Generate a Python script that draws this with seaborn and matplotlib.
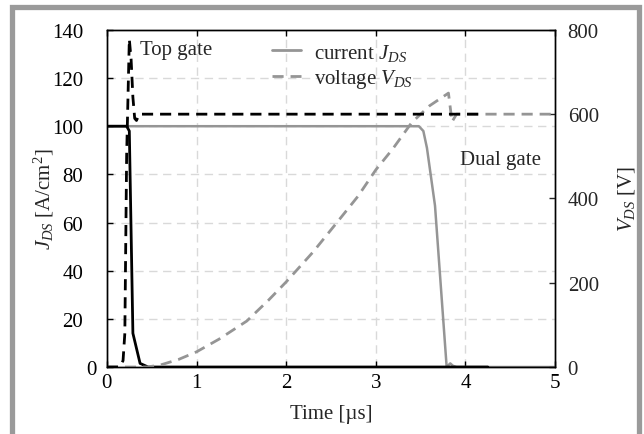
import matplotlib
matplotlib.use("Agg")

import matplotlib.pyplot as plt
import matplotlib.transforms as mtransforms
from matplotlib.lines import Line2D
from matplotlib.patches import Rectangle
import seaborn as sns

# top gate (black)
top_t_cur = [0.0, 0.22, 0.25, 0.29, 0.37, 0.46, 4.25]
top_j = [100, 100, 98, 14, 1.5, 0, 0]
top_t_volt = [0.0, 0.14, 0.18, 0.20, 0.22, 0.25, 0.27, 0.29, 0.31, 0.33, 0.36, 4.2]
top_v = [0, 0, 15, 80, 500, 778, 730, 640, 590, 585, 600, 600]

# dual gate (gray)
dual_t_cur = [0.0, 3.48, 3.53, 3.57, 3.66, 3.79, 3.83, 3.86, 3.9, 5.0]
dual_j = [100, 100, 98, 91, 67, 0, 1.5, 0.5, 0, 0]
dual_t_volt = [0.0, 0.45, 0.6, 0.8, 1.0, 1.25, 1.56, 1.8, 2.0, 2.3, 2.57, 2.8, 3.0,
               3.19, 3.4, 3.6, 3.81, 3.85, 3.9, 5.0]
dual_v = [0, 0, 5, 18, 36, 66, 109, 158, 202, 273, 344, 405, 468,
          518, 580, 620, 650, 582, 600, 600]

j_ticks = [0, 20, 40, 60, 80, 100, 120, 140]
v_ticks = [0, 200, 400, 600, 800]
t_ticks = [0, 1, 2, 3, 4, 5]

sns.set_style("white")
plt.rcParams["font.family"] = ["Liberation Serif", "DejaVu Serif"]
plt.rcParams["mathtext.fontset"] = "custom"
plt.rcParams["mathtext.rm"] = "Liberation Serif"
plt.rcParams["mathtext.it"] = "Liberation Serif:italic"
fs = 15

gray = "#959595"
fig = plt.figure(figsize=(6.44, 4.35), dpi=100)
ax = fig.add_axes([0.166, 0.154, 0.696, 0.775])
ax2 = ax.twinx()

# grid (left axis units)
for t in t_ticks[1:-1]:
    ax.axvline(t, color="#d9d9d9", lw=1.0, ls=(0, (6, 4)), zorder=0)
for j in j_ticks[1:-1]:
    ax.axhline(j, color="#d9d9d9", lw=1.0, ls=(0, (6, 4)), zorder=0)

sns.lineplot(x=dual_t_cur, y=dual_j, ax=ax, color=gray, lw=1.8, estimator=None, sort=False)
sns.lineplot(x=top_t_cur, y=top_j, ax=ax, color="black", lw=2.0, estimator=None, sort=False)
sns.lineplot(x=dual_t_volt, y=dual_v, ax=ax2, color=gray, lw=2.0, ls=(0, (4, 2.5)),
             estimator=None, sort=False)
sns.lineplot(x=top_t_volt, y=top_v, ax=ax2, color="black", lw=2.0, ls=(0, (4, 2.5)),
             estimator=None, sort=False)

ax.set_xlim(0, 5)
ax.set_ylim(0, 140)
ax2.set_ylim(0, 800)
ax.set_xticks(t_ticks)
ax.set_yticks(j_ticks)
ax2.set_yticks(v_ticks)

ax.tick_params(axis="x", direction="in", length=4, width=1, top=True, bottom=True,
               colors="black", labelsize=fs, pad=4)
ax.tick_params(axis="y", direction="in", length=4, width=1, left=True, right=False,
               colors="black", labelsize=fs, pad=17)
ax2.tick_params(direction="in", length=4, width=1, right=True, labelsize=fs, pad=9)
for a in (ax, ax2):
    for s in a.spines.values():
        s.set_color("black")
        s.set_linewidth(1.0)

# the zero label on the left sits closer to the axis
fig.canvas.draw()
zero_lbl = ax.get_yticklabels()[0]
zero_lbl.set_transform(zero_lbl.get_transform() +
                       mtransforms.ScaledTranslation(13 / 100, 0, fig.dpi_scale_trans))

ax.set_xlabel("Time [µs]", fontsize=fs, labelpad=9)
ax.set_ylabel("$J_{DS}$ [A/cm$^2$]", fontsize=fs, labelpad=-3)
ax2.set_ylabel("$V_{DS}$ [V]", fontsize=fs, labelpad=12)

ax.text(0.37, 132, "Top gate", fontsize=fs, va="center", ha="left")
ax.text(3.94, 86, "Dual gate", fontsize=fs, va="center", ha="left")

handles = [Line2D([], [], color=gray, lw=2.0),
           Line2D([], [], color=gray, lw=2.0, ls=(0, (4, 2.5)))]
ax2.legend(handles, ["current $J_{DS}$", "voltage $V_{DS}$"], loc="upper left",
           bbox_to_anchor=(0.368, 0.965), frameon=False, fontsize=fs,
           handlelength=1.4, handletextpad=0.6, labelspacing=0.2,
           borderpad=0, borderaxespad=0)

# gray frame around the figure
fig.patches.append(Rectangle((12.5 / 644, -0.1), 626 / 644, 1.1 - 7.5 / 435,
                             transform=fig.transFigure, fill=False,
                             edgecolor="#9a9a9a", lw=3.8))

fig.savefig("out.png", dpi=100)
